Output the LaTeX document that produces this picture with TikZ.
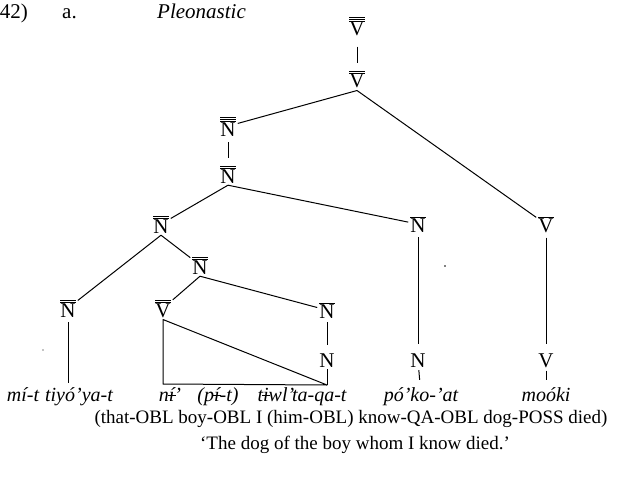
\documentclass[tikz,border=0pt]{standalone}
\usepackage{fontspec}
\setmainfont{Liberation Serif}
% barred i (with or without accent): a short rule laid over the letter
\newcommand\barred[1]{\ooalign{#1\cr\hidewidth\raisebox{.24em}{\rule{.4em}{.06em}}\hidewidth\cr}}
\begin{document}
\begin{tikzpicture}[x=1pt,y=-1pt,
  lab/.style={font=\fontsize{21}{24}\selectfont, inner sep=2pt, anchor=base},
  leaf/.style={font=\fontsize{20}{24}\selectfont\itshape, inner sep=1pt, anchor=base},
  gloss/.style={font=\fontsize{19}{22}\selectfont, inner sep=0pt, anchor=base},
  head/.style={font=\fontsize{21}{24}\selectfont, inner sep=0pt},
  branch/.style={line width=1pt},
  stem/.style={line width=1pt, shorten <=3pt, shorten >=7pt}]
\useasboundingbox (0,0) rectangle (644,476);

% example number and heading
\node[head, anchor=base east] (num) at (28,19) {42)};
\node[head, anchor=base west] (let) at (62,19) {a.};
\node[head, anchor=base west, font=\fontsize{21}{24}\selectfont\itshape] (ttl) at (157,19) {Pleonastic};

% category labels
\node[lab] (r)    at (357,36)  {$\overline{\overline{\overline{\mathrm{V}}}}$};
\node[lab] (v2)   at (357,88)  {$\overline{\overline{\mathrm{V}}}$};
\node[lab] (n3)   at (228,136) {$\overline{\overline{\overline{\mathrm{N}}}}$};
\node[lab] (n2a)  at (228,183) {$\overline{\overline{\mathrm{N}}}$};
\node[lab] (n2b)  at (161,233) {$\overline{\overline{\mathrm{N}}}$};
\node[lab] (nb1)  at (418,232) {$\overline{\mathrm{N}}$};
\node[lab] (vb)   at (546,232) {$\overline{\mathrm{V}}$};
\node[lab] (n2d)  at (200,274) {$\overline{\overline{\mathrm{N}}}$};
\node[lab] (n2c)  at (68,317)  {$\overline{\overline{\mathrm{N}}}$};
\node[lab] (v2b)  at (163,317) {$\overline{\overline{\mathrm{V}}}$};
\node[lab] (nb2)  at (327,318) {$\overline{\mathrm{N}}$};
\node[lab] (nA)   at (327,367) {N};
\node[lab] (nB)   at (418,367) {N};
\node[lab] (vA)   at (546,367) {V};

% words
\node[leaf] (l1) at (23,401)  {mí-t};
\node[leaf] (l2) at (79,401)  {tiyó’ya-t};
\node[leaf] (l3) at (170,401) {n\barred{í}’};
\node[leaf] (l4) at (218,401) {(p\barred{í}-t)};
\node[leaf] (l5) at (302,401) {t\barred{i}wl’ta-qa-t};
\node[leaf] (l6) at (421,401) {pó’ko-’at};
\node[leaf] (l7) at (546,401) {moóki};

% gloss and translation
\node[gloss] (gl) at (351,423) {(that-OBL boy-OBL I (him-OBL) know-QA-OBL dog-POSS died)};
\node[gloss] (tr) at (355,449) {‘The dog of the boy whom I know died.’};

% branches
\draw[branch, shorten <=8pt, shorten >=5pt] (r) -- (v2);
\draw[branch] (v2.south) -- (n3);
\draw[branch] (v2.south) -- (vb);
\draw[branch, shorten <=4pt, shorten >=5pt] (n3) -- (n2a);
\draw[branch] (n2a.south) -- (n2b);
\draw[branch] (n2a.south) -- (nb1);
\draw[branch] (n2b.south) -- (n2c);
\draw[branch] (n2b.south) -- (n2d);
\draw[branch] (n2d.south) -- (v2b);
\draw[branch] (n2d.south) -- (nb2);
\draw[stem] (nb1) -- (nB);
\draw[stem] (vb) -- (vA);
\draw[branch, shorten <=2pt, shorten >=6pt] (nb2) -- (nA);
\draw[stem, shorten >=3pt] (n2c.south) -- (n2c.south |- l2.north);
\draw[branch, shorten <=1pt, shorten >=6pt] (nB) -- (l6);
\draw[branch, shorten <=1pt, shorten >=6pt] (vA) -- (l7);

% triangle over the relative clause
\coordinate (tl) at (163,384);
\coordinate (tc) at (327,385);
\draw[branch, line join=round] (v2b.south) -- (tl) -- (tc) -- cycle;
\draw[branch] (nA) -- (tc);

% specks
\fill (445,266) circle (0.9);
\fill (43,350) circle (0.7);
\end{tikzpicture}
\end{document}
